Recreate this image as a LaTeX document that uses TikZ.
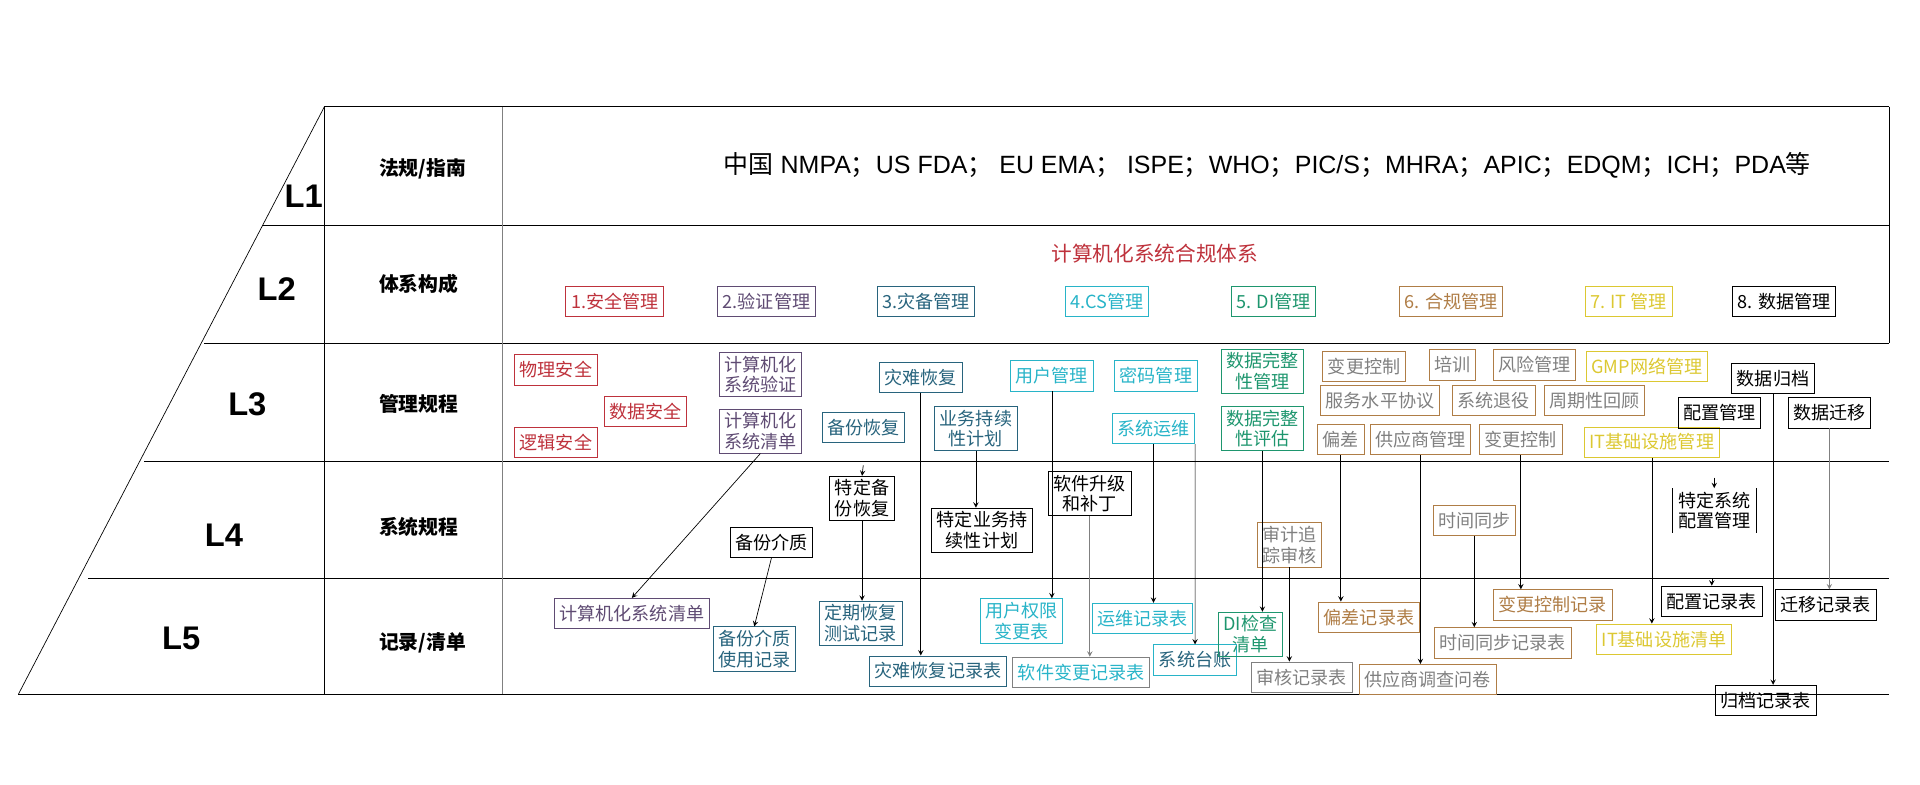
\documentclass[tikz,border=0pt]{standalone}
\usepackage{fontspec}
\setmainfont{Liberation Sans}
\newfontfamily\cjk{Noto Sans CJK SC}
\usetikzlibrary{shapes,arrows,positioning,calc}
\usepackage{xcolor}
\definecolor{secred}{RGB}{190,50,60}
\definecolor{verpurple}{RGB}{95,75,115}
\definecolor{drteal}{RGB}{40,100,125}
\definecolor{csteal}{RGB}{40,180,200}
\definecolor{digreen}{RGB}{30,150,110}
\definecolor{cobrown}{RGB}{175,125,70}
\definecolor{ityellow}{RGB}{220,200,50}
\tikzset{
  box/.style={draw, thin, inner xsep=3pt, inner ysep=2pt, minimum height=0.62cm, align=center,
    font=\cjk\fontsize{10.5}{12}\selectfont},
  level/.style={font=\fontsize{19}{19}\bfseries},
  rowname/.style={font=\cjk\bfseries\fontsize{11.5}{13}\selectfont},
  link/.style={->, >=stealth, thin}
}

\begin{document}
\begin{tikzpicture}[x=0.025cm, y=-0.025cm]
            \useasboundingbox (0,0) rectangle (1568,641);
            % Frame
            \draw[thick] (265,87) -- (1543,87);
            \draw[thick] (214,184) -- (1543,184);
            \draw (167,280) -- (1543,280);
            \draw (118,377) -- (1543,377);
            \draw (72,472) -- (1543,472);
            \draw (15,567) -- (1543,567);
            \draw (265,87) -- (15,567);
            \draw (265,87) -- (265,567);
            \draw[gray] (410,87) -- (410,567);
            \draw (1543,87) -- (1543,280);

            % Levels
            \node[level] (l1) at (248,160) {L1};
            \node[level] (l2) at (226,236) {L2};
            \node[level] (l3) at (202,330) {L3};
            \node[level] (l4) at (183,437) {L4};
            \node[level] (l5) at (148,521) {L5};
            \node[rowname] (r1) at (345,138) {法规/指南};
            \node[rowname] (r2) at (342,232) {体系构成};
            \node[rowname] (r3) at (342,330) {管理规程};
            \node[rowname] (r4) at (342,430) {系统规程};
            \node[rowname] (r5) at (345,525) {记录/清单};

            % L1
            \node[font=\fontsize{14.5}{16}\selectfont] (regs) at (1035,135) {{\cjk 中国} NMPA{\cjk ；}US FDA{\cjk ；} EU EMA{\cjk ；} ISPE{\cjk ；}WHO{\cjk ；}PIC/S{\cjk ；}MHRA{\cjk ；}APIC{\cjk ；}EDQM{\cjk ；}ICH{\cjk ；}PDA{\cjk 等}};

            % L2
            \node[font=\cjk\fontsize{12}{14}\selectfont, text=secred] (sys) at (943,207) {计算机化系统合规体系};
            \node[box, draw=secred, text=secred] (p1) at (502,246) {1.安全管理};
            \node[box, draw=verpurple, text=verpurple] (p2) at (626,246) {2.验证管理};
            \node[box, draw=drteal, text=drteal] (p3) at (756,246) {3.灾备管理};
            \node[box, draw=csteal, text=csteal] (p4) at (904,246) {4.CS管理};
            \node[box, draw=digreen, text=digreen] (p5) at (1040,246) {5. DI管理};
            \node[box, draw=cobrown, text=cobrown] (p6) at (1185,246) {6. 合规管理};
            \node[box, draw=ityellow, text=ityellow] (p7) at (1330,246) {7. IT 管理};
            \node[box] (p8) at (1457,246) {8. 数据管理};

            % L3
            \node[box, draw=secred, text=secred] (wlaq) at (454,302) {物理安全};
            \node[box, draw=secred, text=secred] (sjaq) at (527,336) {数据安全};
            \node[box, draw=secred, text=secred] (ljaq) at (454,361) {逻辑安全};
            \node[box, draw=verpurple, text=verpurple] (jsyz) at (621,306) {计算机化\\系统验证};
            \node[box, draw=verpurple, text=verpurple] (jsqd) at (621,352) {计算机化\\系统清单};
            \node[box, draw=drteal, text=drteal] (bfhf) at (705,349) {备份恢复};
            \node[box, draw=drteal, text=drteal] (zaihai) at (752,308) {灾难恢复};
            \node[box, draw=drteal, text=drteal] (ywcx) at (797,350) {业务持续\\性计划};
            \node[box, draw=csteal, text=csteal] (yhgl) at (859,307) {用户管理};
            \node[box, draw=csteal, text=csteal] (mmgl) at (944,307) {密码管理};
            \node[box, draw=csteal, text=csteal] (xtyw) at (942,350) {系统运维};
            \node[box, draw=digreen, text=digreen] (sjgl) at (1031,303) {数据完整\\性管理};
            \node[box, draw=digreen, text=digreen] (sjpg) at (1031,350) {数据完整\\性评估};
            \node[box, draw=cobrown, text=gray] (bgkz) at (1114,299) {变更控制};
            \node[box, draw=cobrown, text=gray] (px) at (1186,298) {培训};
            \node[box, draw=cobrown, text=gray] (fxgl) at (1253,298) {风险管理};
            \node[box, draw=ityellow, text=ityellow] (gmpw) at (1345,299) {GMP网络管理};
            \node[box, draw=cobrown, text=gray] (fwxy) at (1127,327) {服务水平协议};
            \node[box, draw=cobrown, text=gray] (xtty) at (1220,327) {系统退役};
            \node[box, draw=cobrown, text=gray] (zqhg) at (1302,327) {周期性回顾};
            \node[box, draw=cobrown, text=gray] (pc) at (1095,359) {偏差};
            \node[box, draw=cobrown, text=gray] (gys) at (1160,359) {供应商管理};
            \node[box, draw=cobrown, text=gray] (bgkzb) at (1242,359) {变更控制};
            \node[box, draw=ityellow, text=ityellow] (itjc) at (1349,361) {IT基础设施管理};
            \node[box] (sjgd) at (1448,309) {数据归档};
            \node[box] (pzgl) at (1404,337) {配置管理};
            \node[box] (sjqy) at (1494,337) {数据迁移};

            % L4
            \node[box] (bfjz) at (630,443) {备份介质};
            \node[box] (tdbf) at (704,407) {特定备\\份恢复};
            \node[box] (tdyw) at (802,433) {特定业务持\\续性计划};
            \node[box] (rjsj) at (890,403) {软件升级\\和补丁};
            \node[box, draw=cobrown, text=gray] (sjzz) at (1053,445) {审计追\\踪审核};
            \node[box, draw=cobrown, text=gray] (sjtb) at (1204,425) {时间同步};
            \node[box, draw=none] (tdpz) at (1400,417) {特定系统\\配置管理};
            \draw (tdpz.north west) -- (tdpz.south west) (tdpz.north east) -- (tdpz.south east);

            % L5
            \node[box, draw=verpurple, text=verpurple] (jsqdb) at (516,501) {计算机化系统清单};
            \node[box, draw=drteal, text=drteal] (bfjl) at (616,530) {备份介质\\使用记录};
            \node[box, draw=drteal, text=drteal] (dqhf) at (703,509) {定期恢复\\测试记录};
            \node[box, draw=drteal, text=drteal] (zhjl) at (766,548) {灾难恢复记录表};
            \node[box, draw=csteal, text=csteal] (yhqx) at (834,507) {用户权限\\变更表};
            \node[box, draw=gray, text=csteal] (rjbg) at (883,549) {软件变更记录表};
            \node[box, draw=csteal, text=csteal] (ywjl) at (933,505) {运维记录表};
            \node[box, draw=csteal, text=drteal] (xttz) at (976,539) {系统台账};
            \node[box, draw=digreen, text=digreen] (djqd) at (1021,518) {DI检查\\清单};
            \node[box, draw=gray, text=gray] (shjl) at (1063,553) {审核记录表};
            \node[box, draw=cobrown, text=cobrown] (pcjl) at (1118,504) {偏差记录表};
            \node[box, draw=cobrown, text=gray] (gydc) at (1166,555) {供应商调查问卷};
            \node[box, draw=cobrown, text=gray] (sjtbjl) at (1227,525) {时间同步记录表};
            \node[box, draw=cobrown, text=cobrown] (bgjl) at (1268,494) {变更控制记录};
            \node[box, draw=ityellow, text=ityellow] (itqd) at (1359,522) {IT基础设施清单};
            \node[box] (pzjl) at (1398,491) {配置记录表};
            \node[box] (qyjl) at (1491,494) {迁移记录表};
            \node[box] (gdjl) at (1442,572) {归档记录表};

            % Arrows
            \coordinate (bfin) at (705,380);
            \coordinate (pzin) at (1400,390);
            \coordinate (pzout) at (1398,473);
            \draw[link] (jsqd.south) -- (jsqdb.north);
            \draw[link] (bfjz.south) -- (bfjl.north);
            \draw[link] (bfin) -- (tdbf.north);
            \draw[link] (tdbf.south) -- (tdbf.south |- dqhf.north);
            \draw[link] (zaihai.south) -- (zaihai.south |- zhjl.north);
            \draw[link] (ywcx.south) -- (ywcx.south |- tdyw.north);
            \draw[link] (yhgl.south) -- (yhgl.south |- yhqx.north);
            \draw[link, gray] (rjsj.south) -- (rjsj.south |- rjbg.north);
            \draw[link] (xtyw.south) -- (xtyw.south |- ywjl.north);
            \draw[link] (xtyw.south east) -- (xttz.north);
            \draw[link] (sjpg.south) -- (sjpg.south |- djqd.north);
            \draw[link] (sjzz.south) -- (sjzz.south |- shjl.north);
            \draw[link] (pc.south) -- (pc.south |- pcjl.north);
            \draw[link] (gys.south) -- (gys.south |- gydc.north);
            \draw[link] (sjtb.south) -- (sjtb.south |- sjtbjl.north);
            \draw[link] (bgkzb.south) -- (bgkzb.south |- bgjl.north);
            \draw[link] (itjc.south) -- (itjc.south |- itqd.north);
            \draw[link] (pzin) -- (tdpz.north);
            \draw[link] (pzout) -- (pzjl.north);
            \draw[link] (sjgd.south) -- (sjgd.south |- gdjl.north);
            \draw[link, gray] (sjqy.south) -- (sjqy.south |- qyjl.north);
        \end{tikzpicture}
\end{document}
